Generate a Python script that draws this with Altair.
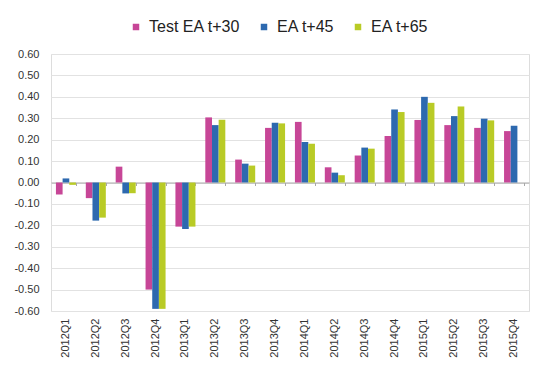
import altair as alt
import pandas as pd

quarters = ["2012Q1", "2012Q2", "2012Q3", "2012Q4", "2013Q1", "2013Q2", "2013Q3", "2013Q4",
            "2014Q1", "2014Q2", "2014Q3", "2014Q4", "2015Q1", "2015Q2", "2015Q3", "2015Q4"]
series = ["Test EA t+30", "EA t+45", "EA t+65"]
colors = ["#C74697", "#2D69AF", "#B9CB26"]

test_ea_t30 = [-0.056, -0.073, 0.074, -0.500, -0.206, 0.304, 0.107, 0.255,
               0.283, 0.071, 0.126, 0.217, 0.292, 0.268, 0.255, 0.240]
ea_t45 = [0.019, -0.178, -0.051, -0.590, -0.217, 0.268, 0.088, 0.279,
          0.189, 0.046, 0.163, 0.341, 0.400, 0.310, 0.298, 0.265]
ea_t65 = [-0.011, -0.164, -0.050, -0.590, -0.206, 0.293, 0.079, 0.276,
          0.181, 0.034, 0.158, 0.329, 0.372, 0.355, 0.290, None]

y_ticks = [-0.6, -0.5, -0.4, -0.3, -0.2, -0.1, 0.0, 0.1, 0.2, 0.3, 0.4, 0.5, 0.6]

rows = []
for name, vals in zip(series, [test_ea_t30, ea_t45, ea_t65]):
    for q, v in zip(quarters, vals):
        if v is not None:
            rows.append({"Quarter": q, "Series": name, "value": v})
df = pd.DataFrame(rows)

xscale = alt.Scale(paddingInner=0.33, paddingOuter=0.165)
yscale = alt.Scale(domain=[-0.6, 0.6], nice=False, zero=False)
yaxis = alt.Axis(title=None, values=y_ticks,
                 labelExpr="(datum.value < -0.0001 ? '-' : '') + format(abs(datum.value), '.2f')",
                 grid=True, gridColor="#e2e2e2", domain=False, ticks=False,
                 labelOverlap=False, labelFlush=False,
                 labelPadding=12, labelFontSize=11, labelColor="#333333")

base = alt.Chart(df)

bars = base.mark_bar().encode(
    x=alt.X("Quarter:N", sort=quarters, scale=xscale,
            axis=alt.Axis(title=None, labelAngle=-90, labelPadding=7, ticks=False,
                          domain=False, labelFontSize=11, labelColor="#333333", grid=False)),
    y=alt.Y("value:Q", scale=yscale, axis=yaxis),
    xOffset=alt.XOffset("Series:N", sort=series, scale=alt.Scale(paddingInner=0, paddingOuter=0)),
    color=alt.Color("Series:N", sort=series, scale=alt.Scale(domain=series, range=colors),
                    legend=alt.Legend(title=None, orient="none", legendX=77, legendY=-35,
                                      direction="horizontal", symbolType="square",
                                      symbolSize=42, symbolStrokeWidth=0, labelFontSize=16,
                                      labelOffset=5, columnPadding=15, padding=0,
                                      labelColor="#222222")),
)

zero = base.mark_point(opacity=0).encode(
    x=alt.X("Quarter:N", sort=quarters, scale=xscale,
            axis=alt.Axis(title=None, labels=False, domain=True, domainColor="#a8a8a8",
                          ticks=True, tickColor="#a8a8a8", tickSize=3, tickBand="extent",
                          orient="bottom", offset=-128.5, grid=False)),
    y=alt.Y("value:Q", scale=yscale, axis=yaxis),
)

chart = alt.layer(bars, zero).resolve_axis(x="independent").properties(
    width=478, height=257, autosize="none",
    padding={"left": 51, "top": 54, "right": 11, "bottom": 64},
).configure_view(stroke=None).configure(font="Liberation Sans")

chart.save("out.html", embed_options={"renderer": "svg", "actions": False})
